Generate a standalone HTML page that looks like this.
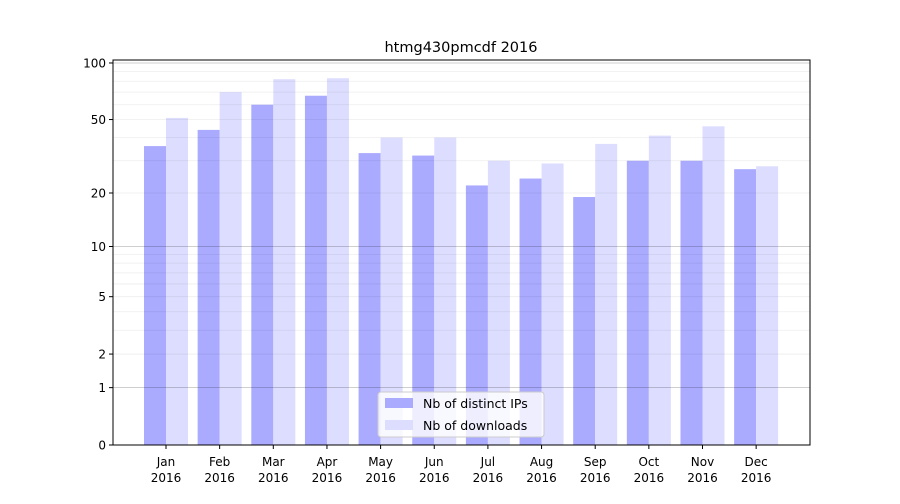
<!DOCTYPE html>
<html><head><meta charset="utf-8"><style>
body{margin:0;background:#fff;font-family:"DejaVu Sans","Liberation Sans",sans-serif}
</style></head><body>
<svg id="c" width="900" height="500" xmlns="http://www.w3.org/2000/svg" font-family="DejaVu Sans, Liberation Sans, sans-serif">
<text x="461" y="52" text-anchor="middle" font-size="14.5">htmg430pmcdf 2016</text>
<g id="bars"></g><g id="grid"></g><g id="axes"></g>
</svg>
<script>
const categories=["Jan","Feb","Mar","Apr","May","Jun","Jul","Aug","Sep","Oct","Nov","Dec"];
const ipsValues=[36,44,60,67,33,32,22,24,19,30,30,27];
const downloadValues=[51,70,82,83,40,40,30,29,37,41,46,28];
const tickValues=[0,1,2,5,10,20,50,100];
const NS="http://www.w3.org/2000/svg";
const L=113,R=810,T=60,B=445,Y0=445,K=190.6;
function y(v){return Y0-Math.log10(1+v)*K;}
function x(i){return 166+i*53.65;}
function mk(p,t,a){const e=document.createElementNS(NS,t);for(const k in a)e.setAttribute(k,a[k]);p.appendChild(e);return e;}
const g=document.getElementById('grid'),b=document.getElementById('bars'),ax=document.getElementById('axes');
const minors=[];for(let d=1;d<=10;d*=10)for(let m=2;m<=9;m++)minors.push(m*d);
minors.forEach(v=>{const l=mk(g,'line',{x1:L,x2:R,y1:y(v),y2:y(v),stroke:'#000','stroke-opacity':0.07,'stroke-width':0.8});

});
[1,10,100].forEach(v=>{const l=mk(g,'line',{x1:L,x2:R,y1:y(v),y2:y(v),stroke:'#000','stroke-opacity':0.25,'stroke-width':0.8});

});
categories.forEach((c,i)=>{
const r1=mk(b,'rect',{x:x(i)-22,y:y(ipsValues[i]),width:22,height:Y0-y(ipsValues[i]),fill:'#aaaaff'});


const r2=mk(b,'rect',{x:x(i),y:y(downloadValues[i]),width:22,height:Y0-y(downloadValues[i]),fill:'#ddddff'});


mk(ax,'line',{x1:x(i),x2:x(i),y1:B,y2:B+4,stroke:'#000'});
const t=mk(ax,'text',{x:x(i),y:466,'text-anchor':'middle','font-size':12});


t.innerHTML='<tspan x="'+x(i)+'">'+c+'</tspan><tspan x="'+x(i)+'" dy="16">2016</tspan>';
});
tickValues.forEach(v=>{mk(ax,'line',{x1:L-4,x2:L,y1:y(v),y2:y(v),stroke:'#000'});
const t=mk(ax,'text',{x:L-7,y:y(v)+4.5,'text-anchor':'end','font-size':12});


t.textContent=v;});
const fr=mk(ax,'rect',{x:L,y:T,width:R-L,height:B-T,fill:'none',stroke:'#000','stroke-width':1});


const lg=mk(ax,'g',{});


mk(lg,'rect',{x:378,y:392,width:166,height:45,rx:3,fill:'#fff','fill-opacity':0.8,stroke:'#ccc'});
mk(lg,'rect',{x:385,y:398,width:28,height:10,fill:'#aaaaff'});
mk(lg,'rect',{x:385,y:420,width:28,height:10,fill:'#ddddff'});
const a=mk(lg,'text',{x:423,y:408,'font-size':12.5});a.textContent='Nb of distinct IPs';


const d=mk(lg,'text',{x:423,y:430,'font-size':12.5});d.textContent='Nb of downloads';


</script>
</body></html>
